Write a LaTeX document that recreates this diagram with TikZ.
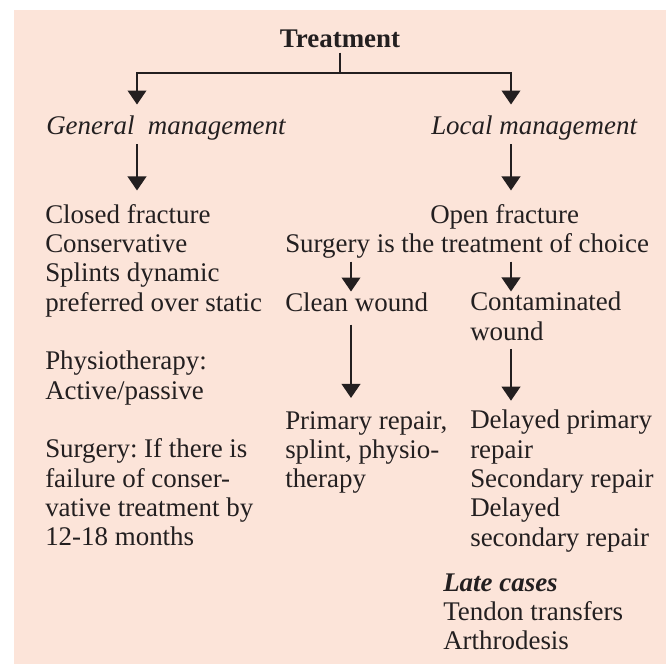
\documentclass[tikz,border=0pt]{standalone}
\usepackage{fontspec}
\setmainfont{Liberation Serif}
\usepackage{xcolor}
\usetikzlibrary{arrows.meta}
\definecolor{peach}{RGB}{252,228,217}
\definecolor{ink}{RGB}{35,31,32}
\frenchspacing
\begin{document}
\begin{tikzpicture}[x=0.75pt,y=-0.75pt,
txt/.style={anchor=base west,inner sep=0pt,align=left,text=ink,font=\fontsize{20.2}{22}\selectfont},
arr/.style={draw=ink,line width=1.3pt,-{Triangle[width=14pt,length=10.5pt]}}]
\useasboundingbox (0,0) rectangle (667,665);
\fill[peach] (14,10) rectangle (666,664);
\node[txt,anchor=base,font=\fontsize{20.2}{22}\selectfont\bfseries] (treat) at (340,47) {Treatment};
\node[txt] (gen) at (46,134) {\textit{General\hspace{.25em} management}};
\node[txt] (loc) at (431,134) {\textit{Local management}};
\node[txt] (closed) at (45,545.7) {Closed fracture\\Conservative\\Splints dynamic\\preferred over static\\[22pt]Physiotherapy:\\Active/passive\\[22pt]Surgery: If there is\\failure of conser-\\vative treatment by\\12-18 months};
\node[txt] (open) at (430,223) {Open fracture};
\node[txt] (choice) at (285,252.6) {Surgery is the treatment of choice};
\node[txt] (clean) at (285,311) {Clean wound};
\node[txt] (contam) at (470,340.3) {Contaminated\\wound};
\node[txt] (prim) at (285,487.7) {Primary repair,\\splint, physio-\\therapy};
\node[txt] (delay) at (470,546.3) {Delayed primary\\repair\\Secondary repair\\Delayed\\secondary repair};
\node[txt] (late) at (443,649.7) {\textbf{\textit{Late cases}}\\Tendon transfers\\Arthrodesis};
\coordinate (split) at (340,73);
\coordinate (genx) at (137,0);
\coordinate (locx) at (511,0);
\coordinate (cleanx) at (351,0);
\draw[ink,line width=1.3pt,shorten <=3.75pt] (treat.south) -- (split);
\draw[arr,shorten >=7.9pt] (split) -| (gen.north -| genx);
\draw[arr,shorten >=7.9pt] (split) -| (loc.north -| locx);
\draw[arr,shorten <=3pt,shorten >=10pt] (gen.south -| genx) -- (closed.north -| genx);
\draw[arr,shorten <=3pt,shorten >=10pt] (loc.south -| locx) -- (open.north -| locx);
\draw[arr,shorten <=2.25pt,shorten >=0.4pt] (choice.south -| cleanx) -- (clean.north -| cleanx);
\draw[arr,shorten <=2.25pt,shorten >=0.4pt] (choice.south -| locx) -- (contam.north -| locx);
\draw[arr,shorten <=9.75pt,shorten >=9.75pt] (clean.south -| cleanx) -- (prim.north -| cleanx);
\draw[arr,shorten <=6pt,shorten >=7pt] (contam.south -| locx) -- (delay.north -| locx);
\end{tikzpicture}
\end{document}
